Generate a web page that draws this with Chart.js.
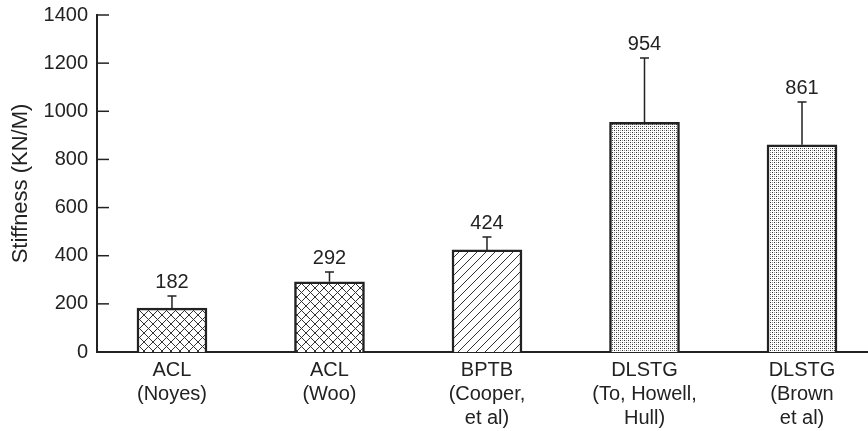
<!DOCTYPE html>
<html>
<head>
<meta charset="utf-8">
<script src="https://cdn.jsdelivr.net/npm/chart.js@4"></script>
<style>
  html, body { margin: 0; padding: 0; background: #fff; }
  #wrap { width: 868px; height: 431px; }
</style>
</head>
<body>
<div id="wrap"><canvas id="chartStiffness"></canvas></div>
<script>
const categories = [
  ["ACL", "(Noyes)"],
  ["ACL", "(Woo)"],
  ["BPTB", "(Cooper,", "et al)"],
  ["DLSTG", "(To, Howell,", "Hull)"],
  ["DLSTG", "(Brown", "et al)"]
];
const stiffness = [182, 292, 424, 954, 861];
const errorTop = [233, 332, 478, 1221, 1039];
const yTicks = [0, 200, 400, 600, 800, 1000, 1200, 1400];

const FONT = "'Liberation Sans', Arial, sans-serif";
const INK = "#222";

function makePattern(kind) {
  const c = document.createElement("canvas");
  const s = kind === "dots" ? 4 : 9;
  c.width = s; c.height = s;
  const g = c.getContext("2d");
  g.fillStyle = "#fff";
  g.fillRect(0, 0, s, s);
  g.strokeStyle = "#333";
  g.lineWidth = 1;
  if (kind === "cross" || kind === "diag") {
    g.beginPath();
    g.moveTo(0, s); g.lineTo(s, 0);
    g.moveTo(-1, 1); g.lineTo(1, -1);
    g.moveTo(s - 1, s + 1); g.lineTo(s + 1, s - 1);
    g.stroke();
  }
  if (kind === "cross") {
    g.beginPath();
    g.moveTo(0, 0); g.lineTo(s, s);
    g.moveTo(s - 1, -1); g.lineTo(s + 1, 1);
    g.moveTo(-1, s - 1); g.lineTo(1, s + 1);
    g.stroke();
  }
  if (kind === "dots") {
    g.fillStyle = "#333";
    g.fillRect(0, 0, 1, 1);
    g.fillRect(2, 2, 1, 1);
    g.fillStyle = "#999";
    g.fillRect(2, 0, 1, 1);
    g.fillRect(0, 2, 1, 1);
  }
  return g.createPattern(c, "repeat");
}

const fills = [makePattern("cross"), makePattern("cross"), makePattern("diag"), makePattern("dots"), makePattern("dots")];

const errorBarsAndLabels = {
  id: "errorBarsAndLabels",
  afterDatasetsDraw(chart) {
    const ctx = chart.ctx;
    const xs = chart.scales.x, ys = chart.scales.y;
    ctx.save();
    ctx.strokeStyle = INK;
    ctx.lineWidth = 1.5;
    stiffness.forEach((v, i) => {
      const x = xs.getPixelForValue(i);
      const yTop = ys.getPixelForValue(v);
      const yErr = ys.getPixelForValue(errorTop[i]);
      ctx.beginPath();
      ctx.moveTo(x, yTop);
      ctx.lineTo(x, yErr);
      ctx.moveTo(x - 4.5, yErr);
      ctx.lineTo(x + 4.5, yErr);
      ctx.stroke();
      ctx.fillStyle = INK;
      ctx.font = "20px " + FONT;
      ctx.textAlign = "center";
      ctx.textBaseline = "alphabetic";
      ctx.fillText(String(v), x, yErr - 8);
    });
    // y ticks point into the plot
    yTicks.forEach(t => {
      const y = ys.getPixelForValue(t);
      ctx.beginPath();
      ctx.moveTo(chart.chartArea.left, y);
      ctx.lineTo(chart.chartArea.left + 12, y);
      ctx.stroke();
    });
    ctx.restore();
  }
};

const chartStiffness = new Chart(document.getElementById("chartStiffness"), {
  type: "bar",
  data: {
    datasets: [{
      data: stiffness.map((v, i) => ({ x: i, y: v })),
      backgroundColor: fills,
      borderColor: INK,
      borderWidth: 2.5,
      borderSkipped: "bottom",
      barThickness: 70
    }]
  },
  options: {
    responsive: true,
    maintainAspectRatio: false,
    animation: false,
    layout: { padding: { top: 15, right: 0 } },
    plugins: { legend: { display: false }, tooltip: { enabled: false } },
    scales: {
      x: {
        type: "linear",
        offset: false,
        min: -0.476,
        max: 4.419,
        afterBuildTicks: s => { s.ticks = categories.map((_, i) => ({ value: i })); },
        afterFit: s => { s.height = 79; },
        grid: { display: false, drawTicks: false },
        border: { display: true, color: INK, width: 2 },
        ticks: {
          padding: 6,
          color: INK,
          maxRotation: 0,
          autoSkip: false,
          font: { family: FONT, size: 20, lineHeight: 1.2 },
          callback: (v, i) => categories[i]
        }
      },
      y: {
        min: 0,
        max: 1400,
        afterBuildTicks: s => { s.ticks = yTicks.map(v => ({ value: v })); },
        afterFit: s => { s.width = 97; },
        grid: { display: false, drawTicks: false },
        border: { display: true, color: INK, width: 2 },
        title: {
          display: true,
          text: "Stiffness (KN/M)",
          color: INK,
          font: { family: FONT, size: 22 },
          padding: { top: 8, bottom: 4 }
        },
        ticks: {
          padding: 9,
          color: INK,
          font: { family: FONT, size: 20, lineHeight: 0.6 },
          callback: v => String(v)
        }
      }
    }
  },
  plugins: [errorBarsAndLabels]
});
</script>
</body>
</html>
